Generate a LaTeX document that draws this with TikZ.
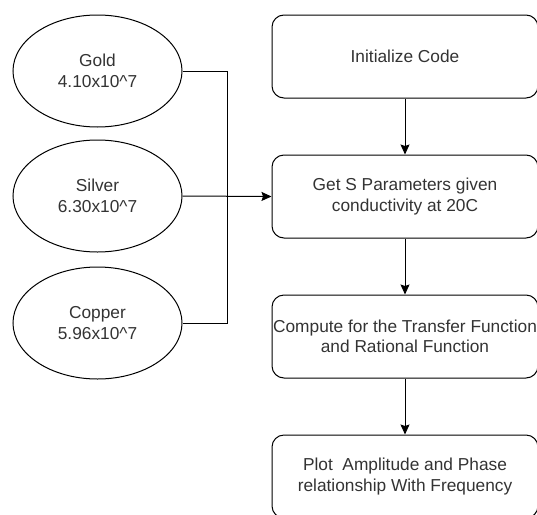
\documentclass[tikz,border=0pt]{standalone}
\usepackage{fontspec}
\setmainfont{Liberation Sans}
\usepackage{tikz}
\usetikzlibrary{shapes.geometric,arrows.meta}

\definecolor{txtgray}{RGB}{51,51,51}

\begin{document}
\begin{tikzpicture}[x=1pt,y=1pt]
\tikzstyle{every node}+=[inner sep=0pt, text=txtgray, font=\fontsize{17.3}{20.5}\selectfont, align=center]
\tikzstyle{metal}=[draw, line width=1pt, ellipse, minimum width=169pt, minimum height=112pt]
\tikzstyle{stepbox}=[draw, line width=1pt, rounded corners=12pt, minimum width=266pt, minimum height=83pt]
\tikzstyle{link}=[line width=1pt, -{Stealth[length=10pt,width=9pt,inset=1.5pt]}]
\useasboundingbox (0,0) rectangle (537,-514);
% conductivities
\node [metal] (gold) at (97.5,-71) {Gold\\4.10x10\^{}7};
\node [metal] (silver) at (97.5,-196) {Silver\\6.30x10\^{}7};
\node [metal] (copper) at (97.5,-323) {Copper\\5.96x10\^{}7};
% steps
\node [stepbox] (init) at (405,-56.5) {Initialize Code};
\node [stepbox] (spar) at (405,-196.5) {Get S Parameters given\\conductivity at 20C};
\node [stepbox] (comp) at (405,-336.5) {Compute for the Transfer Function\\and Rational Function};
\node [stepbox] (plot) at (405,-476.5) {Plot\ \ Amplitude and Phase\\relationship With Frequency};
% connectors
\coordinate (bus) at (227,-71);
\draw [line width=1pt] (gold.east) -- (bus) |- (copper.east);
\draw [link] (silver.east) -- (spar.west);
\draw [link] (init) -- (spar);
\draw [link] (spar) -- (comp);
\draw [link] (comp) -- (plot);
\end{tikzpicture}
\end{document}
